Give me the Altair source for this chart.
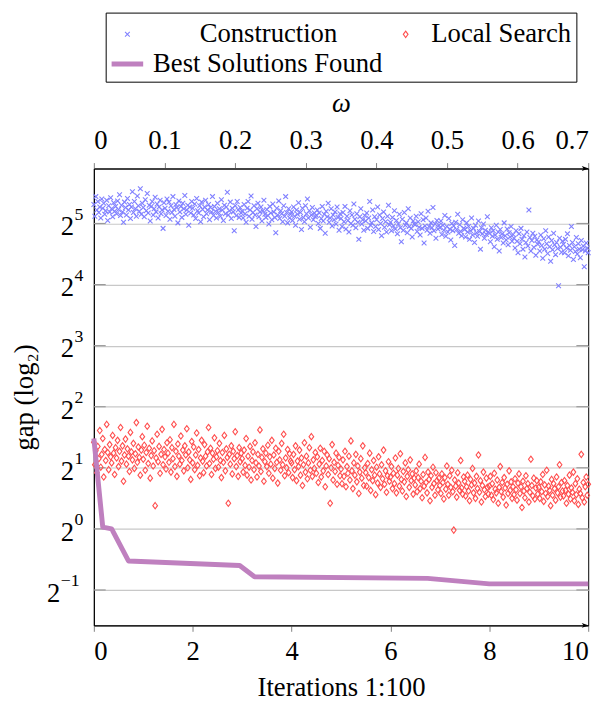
import altair as alt
import pandas as pd

# ---------------- data ----------------
series_names = ["Construction", "Local Search", "Best Solutions Found"]
series_colors = ["#8080ff", "#ff4d4d", "#bf80bf"]

# log2(gap) of the construction solutions, iterations 0..1000 (shown as 0..10)
construction_log2 = [
    5.31, 5.12, 5.44, 5.22, 5.36, 5.18, 5.27, 5.09, 5.40, 5.25, 5.33, 5.15, 5.21, 5.38, 5.05, 5.29, 5.19, 5.42, 5.24, 5.11, 5.34, 5.20, 5.28, 5.16, 5.37,
    5.23, 5.47, 5.13, 5.30, 5.19, 5.02, 5.35, 5.26, 5.14, 5.41, 5.22, 5.31, 5.08, 5.27, 5.52, 5.18, 5.36, 5.24, 5.12, 5.45, 5.29, 5.20, 5.57, 5.15, 5.33,
    5.26, 5.11, 5.39, 5.21, 5.49, 5.17, 5.30, 5.04, 5.28, 5.36, 5.14, 5.24, 5.43, 5.19, 5.32, 5.09, 5.27, 5.38, 5.16, 5.22, 4.92, 5.34, 5.25, 5.13, 5.40,
    5.20, 5.35, 5.07, 5.29, 5.18, 5.44, 5.23, 5.12, 5.31, 5.26, 5.01, 5.37, 5.19, 5.28, 5.10, 5.33, 5.24, 5.46, 5.15, 5.22, 5.30, 4.97, 5.27, 5.17, 5.36,
    5.25, 5.14, 5.32, 5.08, 5.41, 5.21, 5.17, 5.29, 5.03, 5.35, 5.23, 5.11, 5.27, 5.38, 5.16, 5.22, 5.31, 5.06, 5.26, 5.19, 5.44, 5.13, 5.28, 5.20, 5.09,
    5.33, 5.18, 5.24, 5.12, 5.39, 5.22, 5.05, 5.30, 5.16, 5.27, 5.51, 5.14, 5.21, 5.35, 5.08, 5.25, 5.19, 4.88, 5.29, 5.13, 5.36, 5.22, 5.10, 5.26, 5.17,
    5.20, 5.09, 5.31, 5.16, 5.02, 5.25, 5.36, 5.12, 5.22, 5.45, 5.07, 5.18, 5.29, 5.14, 4.95, 5.24, 5.33, 5.11, 5.19, 5.27, 5.04, 5.21, 5.38, 5.15, 5.10,
    5.23, 5.13, 4.99, 5.28, 5.17, 5.06, 5.32, 5.19, 5.10, 4.85, 5.25, 5.14, 5.37, 5.08, 5.21, 5.16, 5.03, 5.29, 5.12, 5.44, 5.18, 5.01, 5.24, 5.09, 5.15,
    5.19, 5.05, 5.27, 5.12, 4.97, 5.22, 5.15, 5.34, 5.07, 5.18, 4.90, 5.25, 5.10, 5.03, 5.29, 5.16, 5.40, 5.09, 5.21, 4.94, 5.14, 5.26, 5.06, 5.17, 5.11,
    5.13, 5.22, 5.00, 5.17, 4.92, 5.08, 5.28, 5.04, 5.15, 4.84, 5.20, 5.11, 5.33, 5.02, 5.09, 5.24, 4.96, 5.14, 5.06, 5.19, 4.99, 5.27, 5.10, 4.89, 5.16,
    5.08, 4.95, 5.18, 5.03, 5.28, 4.91, 5.12, 5.05, 4.86, 5.21, 5.00, 5.14, 4.97, 5.32, 5.07, 4.93, 5.16, 5.02, 4.74, 5.11, 5.24, 4.99, 5.06, 4.89, 5.13,
    5.04, 5.17, 4.92, 5.09, 5.36, 4.97, 5.01, 5.22, 4.87, 5.11, 4.95, 5.06, 5.27, 4.90, 5.14, 5.00, 4.80, 5.08, 5.19, 4.94, 5.03, 4.86, 5.12, 5.30, 4.98,
    5.02, 4.88, 5.10, 4.96, 5.21, 4.91, 5.05, 4.83, 4.99, 5.15, 4.93, 4.70, 5.07, 4.89, 5.18, 4.97, 5.01, 4.85, 5.24, 4.95, 5.09, 4.92, 4.78, 5.04, 4.99,
    4.98, 5.12, 4.87, 5.03, 4.94, 4.81, 5.16, 4.92, 5.06, 4.68, 4.96, 5.09, 4.89, 5.20, 4.95, 4.84, 5.01, 4.93, 5.26, 4.88, 4.99, 4.76, 5.05, 4.91, 4.97,
    4.93, 5.04, 4.82, 4.97, 4.89, 5.13, 4.79, 4.95, 4.86, 5.08, 4.91, 4.73, 5.00, 4.88, 4.96, 4.64, 5.02, 4.90, 5.15, 4.84, 4.98, 4.87, 4.80, 5.06, 4.92,
    4.90, 4.78, 5.01, 4.86, 4.95, 4.74, 4.88, 5.09, 4.81, 4.92, 4.69, 4.97, 4.85, 4.79, 5.04, 4.87, 4.58, 4.93, 4.83, 4.99, 4.76, 4.89, 4.82, 5.11, 4.86,
    4.84, 4.70, 4.93, 4.79, 4.88, 4.62, 4.81, 4.97, 4.74, 4.86, 4.55, 4.90, 4.77, 4.83, 4.68, 5.01, 4.80, 4.73, 4.91, 4.65, 4.85, 4.78, 4.95, 4.71, 4.82,
    4.76, 4.60, 4.88, 4.71, 4.52, 4.83, 4.67, 4.92, 4.74, 4.58, 4.80, 4.45, 4.69, 4.86, 4.63, 5.22, 4.77, 4.55, 4.72, 4.84, 4.61, 4.79, 4.48, 4.73, 4.66,
    4.70, 4.55, 4.81, 4.64, 4.43, 4.75, 4.58, 4.88, 4.67, 4.51, 4.78, 4.62, 4.38, 4.72, 4.57, 4.84, 4.65, 4.49, 4.69, 4.59, 3.98, 4.76, 4.61, 4.53, 4.71,
    4.66, 4.52, 4.74, 4.60, 4.83, 4.47, 4.64, 4.56, 4.95, 4.69, 4.41, 4.62, 4.54, 4.77, 4.50, 4.67, 4.58, 4.44, 4.72, 4.57, 4.63, 4.29, 4.55, 4.68, 4.60,
    4.52,
]

# log2(gap) after local search
local_search_log2 = [
    1.42, 1.05, 1.28, 0.92, 1.35, 1.15, 1.61, 1.01, 1.22, 1.48, 0.85, 1.30, 1.12, 1.71, 1.25, 0.97, 1.38, 1.18, 1.08, 1.53, 1.24, 0.89, 1.33, 1.16, 1.45,
    1.02, 1.27, 1.66, 1.11, 1.36, 0.78, 1.21, 1.47, 1.06, 1.31, 1.19, 0.94, 1.58, 1.26, 1.13, 1.40, 0.99, 1.23, 1.74, 1.09, 1.34, 1.17, 0.88, 1.29, 1.51,
    1.14, 1.37, 0.96, 1.25, 1.68, 1.07, 1.32, 0.83, 1.20, 1.44, 1.03, 1.28, 0.38, 1.16, 1.55, 1.10, 1.35, 0.91, 1.22, 1.63, 1.05, 1.30, 1.18, 0.98, 1.41,
    1.24, 1.09, 1.46, 0.93, 1.33, 1.15, 1.71, 1.02, 1.27, 0.86, 1.39, 1.19, 1.06, 1.52, 1.12, 1.29, 0.95, 1.36, 1.21, 1.64, 1.00, 1.26, 1.13, 0.81, 1.43,
    1.08, 1.34, 0.97, 1.21, 1.57, 1.04, 1.30, 0.87, 1.16, 1.45, 1.11, 0.92, 1.38, 1.19, 1.03, 1.26, 1.66, 1.07, 1.32, 0.89, 1.24, 1.14, 1.49, 0.99, 1.18,
    1.28, 1.01, 1.40, 1.12, 0.84, 1.25, 1.09, 1.53, 0.95, 1.31, 1.17, 0.42, 1.22, 1.06, 1.36, 0.90, 1.27, 1.15, 1.59, 1.02, 1.20, 0.86, 1.33, 1.10, 1.24,
    1.15, 0.93, 1.29, 1.04, 1.48, 0.88, 1.19, 1.01, 1.35, 0.80, 1.12, 1.26, 0.97, 1.41, 1.08, 0.85, 1.22, 1.03, 1.62, 0.94, 1.17, 1.31, 0.78, 1.10, 1.24,
    1.02, 1.37, 0.91, 1.18, 1.06, 1.45, 0.83, 1.21, 0.99, 1.32, 1.09, 0.75, 1.27, 1.13, 0.96, 1.40, 1.05, 1.55, 0.87, 1.16, 1.00, 1.30, 0.92, 1.23, 1.11,
    1.08, 0.84, 1.22, 0.97, 1.36, 0.79, 1.11, 1.02, 1.29, 0.88, 1.16, 0.71, 1.05, 1.41, 0.93, 1.19, 0.82, 1.08, 1.33, 0.96, 1.51, 0.86, 1.13, 0.99, 1.25,
    0.91, 1.18, 0.76, 1.06, 1.32, 0.85, 1.12, 0.95, 1.27, 0.69, 1.03, 1.21, 0.89, 1.15, 0.42, 1.00, 1.38, 0.80, 1.09, 0.94, 1.24, 0.73, 1.04, 1.17, 0.87,
    0.98, 0.74, 1.13, 0.86, 1.27, 0.69, 1.02, 0.91, 1.19, 0.80, 1.44, 0.95, 0.66, 1.08, 0.88, 1.22, 0.77, 1.03, 0.58, 0.93, 1.15, 0.83, 1.36, 0.71, 1.00,
    0.92, 0.70, 1.07, 0.84, 1.24, 0.63, 0.97, 0.79, 1.12, 0.88, 0.56, 1.01, 0.75, 1.18, 0.90, 0.68, 1.05, 0.82, 1.29, 0.73, 0.95, 0.60, 0.87, 1.10, 0.78,
    0.85, 1.02, 0.66, 0.91, 0.74, 1.16, 0.59, 0.88, 0.99, 0.70, 1.23, 0.81, 0.62, 0.94, 0.77, 1.08, 0.53, 0.86, 0.97, 0.68, 1.13, 0.79, 0.90, 0.57, 0.83,
    0.72, 0.95, 0.61, 0.84, 1.06, 0.66, 0.78, 0.51, 0.89, 0.70, 1.17, 0.76, 0.59, 0.93, 0.81, 0.46, 0.87, 0.68, 1.01, 0.74, 0.55, 0.92, 0.79, 0.64, 0.83,
    0.71, 0.58, 0.90, 0.76, 0.49, 0.84, 0.65, 1.03, 0.73, 0.55, 0.87, 0.68, 0.96, 0.61, -0.02, 0.80, 0.70, 0.52, 0.92, 0.75, 0.63, 1.12, 0.67, 0.57, 0.85,
    0.78, 0.54, 0.69, 0.88, 0.62, 0.46, 0.81, 0.72, 0.99, 0.59, 0.75, 0.50, 0.86, 0.66, 1.21, 0.60, 0.79, 0.44, 0.71, 0.93, 0.64, 0.53, 0.83, 0.68, 0.57,
    0.70, 0.86, 0.55, 0.74, 0.48, 0.91, 0.65, 0.59, 0.80, 0.42, 0.68, 1.02, 0.61, 0.76, 0.52, 0.84, 0.67, 0.39, 0.73, 0.58, 0.95, 0.63, 0.77, 0.50, 0.69,
    0.56, 0.82, 0.64, 0.47, 0.75, 0.90, 0.58, 0.69, 0.35, 0.78, 0.62, 0.51, 0.87, 0.66, 0.74, 0.44, 0.60, 1.14, 0.71, 0.54, 0.83, 0.49, 0.67, 0.79, 0.57,
    0.68, 0.50, 0.77, 0.61, 0.89, 0.45, 0.72, 0.58, 0.96, 0.53, 0.70, 0.63, 0.38, 0.81, 0.55, 0.74, 0.66, 0.47, 0.85, 0.59, 0.69, 1.05, 0.52, 0.76, 0.62,
    0.54, 0.79, 0.63, 0.42, 0.71, 0.57, 0.88, 0.49, 0.67, 0.60, 0.93, 0.46, 0.74, 0.56, 0.82, 0.40, 0.65, 0.58, 1.22, 0.51, 0.76, 0.44, 0.69, 0.85, 0.55,
    0.73,
]

# best solution found so far
best_x = [0.0, 0.18, 0.36, 0.70, 2.95, 3.25, 6.75, 8.0, 10.0]
best_log2 = [1.48, 0.03, 0.00, -0.525, -0.60, -0.785, -0.81, -0.90, -0.90]

y_tick_exponents = [-1, 0, 1, 2, 3, 4, 5]
x_ticks = [0, 2, 4, 6, 8, 10]
omega_ticks = [0.0, 0.1, 0.2, 0.3, 0.4, 0.5, 0.6, 0.7]
x_range = [0, 10]
omega_range = [0, 0.7]
y_range_log2 = [-1.58, 5.9]

# ---------------- tables ----------------
def scatter_rows(name, vals):
    n = len(vals)
    return pd.DataFrame({
        "x": [x_range[1] * i / (n - 1) for i in range(n)],
        "gap": [2.0 ** v for v in vals],
        "series": name,
    })

points_df = pd.concat([scatter_rows(series_names[0], construction_log2),
                       scatter_rows(series_names[1], local_search_log2)],
                      ignore_index=True)
best_df = pd.DataFrame({"x": best_x, "gap": [2.0 ** v for v in best_log2]})
ticks_df = pd.DataFrame({
    "gap": [2.0 ** e for e in y_tick_exponents],
    "e": y_tick_exponents,
    "exp": [str(e).replace("-", "\u2212") for e in y_tick_exponents],
    "base": ["2"] * len(y_tick_exponents),
})
omega_df = pd.DataFrame({"omega": omega_range})

W, H = 501, 463
FONT = "Liberation Serif, Times New Roman, Times, serif"
FS = 27

x_scale = alt.Scale(domain=x_range, nice=False, zero=False)
y_scale = alt.Scale(type="log", base=2,
                    domain=[2.0 ** y_range_log2[0], 2.0 ** y_range_log2[1]], nice=False)

# symbol paths drawn at size 1024 (unit = 16 px)
SYM_SIZE = 1024
X_PATH = "M-0.15,-0.15L0.15,0.15M-0.15,0.15L0.15,-0.15"
D_PATH = "M0,-0.2L0.15,0L0,0.2L-0.15,0Z"
L_PATH = ("M-1,-0.125L1,-0.125M-1,-0.0625L1,-0.0625M-1,0L1,0"
          "M-1,0.0625L1,0.0625M-1,0.125L1,0.125")

pad = "\u200d" + "\u00a0" * 7
legend = alt.Legend(
    orient="none", legendX=12, legendY=-158, columns=2, direction="horizontal",
    title=None, strokeColor="black", fillColor="white", padding=5,
    columnPadding=6, rowPadding=0, labelFont=FONT, labelFontSize=FS,
    labelOffset=9, labelColor="black", symbolStrokeWidth=1.1,
    symbolSize=SYM_SIZE, labelLimit=400,
    labelExpr="datum.label === 'Construction' ? '" + pad + "Construction' : datum.label",
)

y_axis = alt.Axis(
    title="gap (log₂)", values=[2.0 ** e for e in y_tick_exponents],
    labels=False, grid=True, gridColor="#c8c8c8", gridWidth=1.2, ticks=False,
    tickSize=0, titlePadding=56,
)
x_axis = alt.Axis(title="Iterations 1:100", values=x_ticks, format="d",
                  orient="bottom", grid=False, tickSize=6, labelPadding=8,
                  titlePadding=10)

points = alt.Chart(points_df).mark_point(filled=False, opacity=1, strokeWidth=1.1,
                                         size=SYM_SIZE).encode(
    x=alt.X("x:Q", scale=x_scale, axis=x_axis),
    y=alt.Y("gap:Q", scale=y_scale, axis=y_axis),
    color=alt.Color("series:N", scale=alt.Scale(domain=series_names, range=series_colors), legend=legend),
    shape=alt.Shape("series:N", scale=alt.Scale(domain=series_names, range=[X_PATH, D_PATH, L_PATH]), legend=legend),
)

best = alt.Chart(best_df).mark_line(color=series_colors[2], strokeWidth=5, strokeJoin="round").encode(
    x=alt.X("x:Q", scale=x_scale),
    y=alt.Y("gap:Q", scale=y_scale),
)

tick_left = alt.Chart(ticks_df).mark_rule(color="#9a9a9a", strokeWidth=1.2).encode(
    y=alt.Y("gap:Q", scale=y_scale), x=alt.value(0), x2=alt.value(12))
tick_right = alt.Chart(ticks_df).mark_rule(color="#9a9a9a", strokeWidth=1.2).encode(
    y=alt.Y("gap:Q", scale=y_scale), x=alt.value(W - 12), x2=alt.value(W))


def tick_label_layers(cond, base_x):
    base = alt.Chart(ticks_df).transform_filter(cond).mark_text(
        align="right", baseline="alphabetic", font=FONT, fontSize=FS, color="black", dy=12
    ).encode(y=alt.Y("gap:Q", scale=y_scale), x=alt.value(base_x), text="base:N")
    sup = alt.Chart(ticks_df).transform_filter(cond).mark_text(
        align="left", baseline="alphabetic", font=FONT, fontSize=18, color="black", dy=-4
    ).encode(y=alt.Y("gap:Q", scale=y_scale), x=alt.value(base_x + 0.5), text="exp:N")
    return [base, sup]


labels_pos = tick_label_layers("datum.e >= 0", -20)
labels_neg = tick_label_layers("datum.e < 0", -34)

ARROW = "M-1,-0.7L1,0L-1,0.7L-0.5,0Z"
arrow_df = pd.DataFrame({"a": [0]})
arrow_bottom = alt.Chart(arrow_df).mark_point(shape=ARROW, filled=True, color="black", opacity=1, size=50).encode(
    x=alt.value(W - 3), y=alt.value(H))
arrow_top = alt.Chart(arrow_df).mark_point(shape=ARROW, filled=True, color="black", opacity=1, size=50).encode(
    x=alt.value(W - 3), y=alt.value(0))

main = alt.layer(tick_left, tick_right, points, best, *labels_pos, *labels_neg,
                 arrow_bottom, arrow_top)

omega = alt.Chart(omega_df).mark_point(opacity=0).encode(
    x=alt.X("omega:Q", scale=alt.Scale(domain=omega_range, nice=False, zero=False),
            axis=alt.Axis(orient="top", title="ω", titleFontStyle="italic",
                          values=omega_ticks, format=".1~f", grid=False,
                          tickSize=6, labelPadding=8, titlePadding=10)))

chart = alt.layer(main, omega).resolve_scale(x="independent").properties(
    width=W, height=H,
    autosize=alt.AutoSizeParams(type="none"),
    padding={"left": 87, "top": 158, "right": 16, "bottom": 75},
).configure_view(stroke="black", strokeWidth=1).configure_axis(
    labelFont=FONT, labelFontSize=FS, titleFont=FONT, titleFontSize=FS,
    titleFontWeight="normal", labelColor="black", titleColor="black",
    domainColor="black", domainWidth=1, tickColor="#808080",
)

chart.save("out.html", embed_options={"renderer": "svg", "actions": False})
